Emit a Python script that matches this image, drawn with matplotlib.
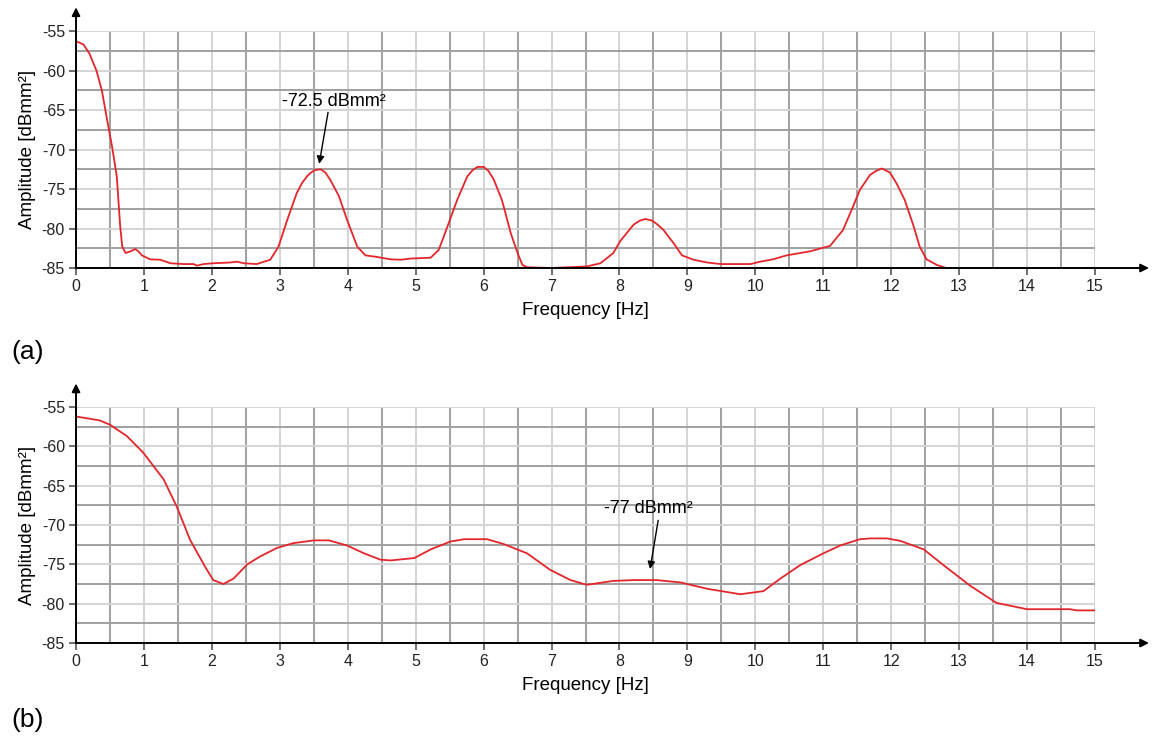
import matplotlib.pyplot as plt
from matplotlib.ticker import MultipleLocator

plt.rcParams['font.family'] = ['Liberation Sans', 'DejaVu Sans']
plt.rcParams['axes.unicode_minus'] = False

# Spectrum (a): frequency [Hz] and amplitude [dBmm²]
freq_a = [0, 0.11, 0.2, 0.3, 0.38, 0.45, 0.53, 0.6, 0.65, 0.68, 0.73, 0.8, 0.87, 0.92,
          0.97, 1.09, 1.24, 1.39, 1.58, 1.73, 1.78, 1.88, 2.02, 2.27, 2.37, 2.47, 2.66,
          2.86, 2.98, 3.11, 3.25, 3.33, 3.4, 3.46, 3.52, 3.6, 3.67, 3.74, 3.87, 3.99,
          4.14, 4.26, 4.43, 4.63, 4.78, 4.93, 5.22, 5.34, 5.47, 5.61, 5.76, 5.84, 5.91,
          6.0, 6.07, 6.15, 6.27, 6.4, 6.5, 6.57, 6.64, 7.0, 7.52, 7.72, 7.91, 8.01,
          8.21, 8.3, 8.38, 8.48, 8.56, 8.65, 8.8, 8.92, 9.09, 9.29, 9.49, 9.93, 10.07,
          10.26, 10.46, 10.8, 11.1, 11.29, 11.42, 11.54, 11.69, 11.78, 11.86, 11.98,
          12.08, 12.2, 12.33, 12.42, 12.52, 12.67, 12.81]
amp_a = [-56.3, -56.7, -57.9, -60.0, -62.5, -65.9, -69.6, -73.4, -79.7, -82.3, -83.1,
         -82.9, -82.6, -82.9, -83.4, -83.9, -83.95, -84.4, -84.5, -84.5, -84.7, -84.5,
         -84.4, -84.3, -84.2, -84.4, -84.5, -83.95, -82.3, -78.9, -75.5, -74.2, -73.4,
         -72.9, -72.6, -72.5, -72.9, -73.8, -75.9, -78.9, -82.3, -83.4, -83.6, -83.9,
         -83.95, -83.8, -83.7, -82.7, -79.7, -76.4, -73.4, -72.6, -72.2, -72.2, -72.7,
         -73.8, -76.4, -80.6, -83.1, -84.6, -84.9, -85.0, -84.8, -84.4, -83.1, -81.6,
         -79.5, -79.0, -78.8, -79.0, -79.5, -80.2, -81.9, -83.4, -83.95, -84.3, -84.5,
         -84.5, -84.2, -83.9, -83.4, -82.9, -82.2, -80.2, -77.6, -75.1, -73.2, -72.7,
         -72.4, -72.9, -74.3, -76.4, -79.7, -82.3, -83.9, -84.6, -85.0]

# Spectrum (b)
freq_b = [0, 0.35, 0.5, 0.75, 0.99, 1.29, 1.48, 1.68, 1.9, 2.02, 2.17, 2.32, 2.52, 2.71,
          2.96, 3.2, 3.5, 3.72, 3.99, 4.24, 4.48, 4.63, 4.98, 5.22, 5.51, 5.71, 6.05,
          6.29, 6.64, 6.98, 7.28, 7.52, 7.91, 8.21, 8.55, 8.9, 9.29, 9.78, 10.12, 10.37,
          10.66, 11.0, 11.25, 11.54, 11.69, 11.94, 12.13, 12.48, 12.77, 13.16, 13.55,
          14.0, 14.63, 14.73, 15.0]
amp_b = [-56.2, -56.7, -57.25, -58.7, -60.8, -64.2, -67.6, -71.9, -75.3, -77.0, -77.5,
         -76.8, -75.0, -74.0, -72.9, -72.3, -71.95, -71.95, -72.6, -73.6, -74.4, -74.5,
         -74.2, -73.1, -72.1, -71.8, -71.8, -72.4, -73.6, -75.7, -77.0, -77.6, -77.1,
         -77.0, -77.0, -77.3, -78.1, -78.8, -78.4, -76.8, -75.1, -73.6, -72.6, -71.8,
         -71.7, -71.7, -72.0, -73.1, -75.1, -77.7, -79.9, -80.7, -80.7, -80.85, -80.85]

# peak labels: text, label position, arrow tail, arrow head
label_a = '-72.5 dBmm\u00b2'
label_a_xy = (3.8, -63.9)
arrow_a = ((3.71, -65.3), (3.58, -71.8))
label_b = '-77 dBmm\u00b2'
label_b_xy = (8.43, -67.9)
arrow_b = ((8.57, -69.4), (8.45, -75.6))

RED = '#e3262b'


def style_axes(ax):
    ax.set_xlim(0, 15)
    ax.set_ylim(-85, -55)
    ax.xaxis.set_major_locator(MultipleLocator(1))
    ax.xaxis.set_minor_locator(MultipleLocator(0.5))
    ax.yaxis.set_major_locator(MultipleLocator(5))
    ax.yaxis.set_minor_locator(MultipleLocator(2.5))
    ax.grid(which='major', color='#d4d4d4', lw=1.4)
    ax.grid(which='minor', color='#a0a0a0', lw=1.4)
    ax.set_axisbelow(True)
    ax.tick_params(which='major', length=5, width=1.2, color='#555555',
                   labelsize=11.5, labelcolor='#222222', pad=3)
    ax.tick_params(which='minor', length=0)
    ax.spines['top'].set_visible(False)
    ax.spines['right'].set_visible(False)
    for s in ('left', 'bottom'):
        ax.spines[s].set_linewidth(1.4)
    ax.set_xlabel('Frequency [Hz]', fontsize=13.5, labelpad=6)
    ax.set_ylabel('Amplitude [dBmm\u00b2]', fontsize=13.5, labelpad=4)
    # arrow heads on both axes
    ax.annotate('', xy=(0, 1.1), xytext=(0, 0.99), xycoords='axes fraction',
                arrowprops=dict(arrowstyle='-|>', color='black', lw=1.4,
                                mutation_scale=12, shrinkA=0, shrinkB=0))
    ax.annotate('', xy=(1.053, 0), xytext=(0.99, 0), xycoords='axes fraction',
                arrowprops=dict(arrowstyle='-|>', color='black', lw=1.4,
                                mutation_scale=12, shrinkA=0, shrinkB=0))


def peak_label(ax, text, text_xy, arrow):
    ax.text(text_xy[0], text_xy[1], text, ha='center', va='center', fontsize=13)
    ax.annotate('', xy=arrow[1], xytext=arrow[0],
                arrowprops=dict(arrowstyle='-|>', color='black', lw=1.0,
                                mutation_scale=11, shrinkA=0, shrinkB=0))


fig = plt.figure(figsize=(11.52, 7.42), dpi=100)
ax1 = fig.add_axes([0.066, 0.6388, 0.8845, 0.3194])
ax2 = fig.add_axes([0.066, 0.1334, 0.8845, 0.318])

for ax in (ax1, ax2):
    style_axes(ax)

ax1.plot(freq_a, amp_a, color=RED, lw=1.3)
ax2.plot(freq_b, amp_b, color=RED, lw=1.3)

peak_label(ax1, label_a, label_a_xy, arrow_a)
peak_label(ax2, label_b, label_b_xy, arrow_b)

fig.text(0.010, 1 - 352 / 742, '(a)', fontsize=19, va='center', ha='left')
fig.text(0.010, 1 - 720 / 742, '(b)', fontsize=19, va='center', ha='left')

fig.savefig('out.png', dpi=100)
